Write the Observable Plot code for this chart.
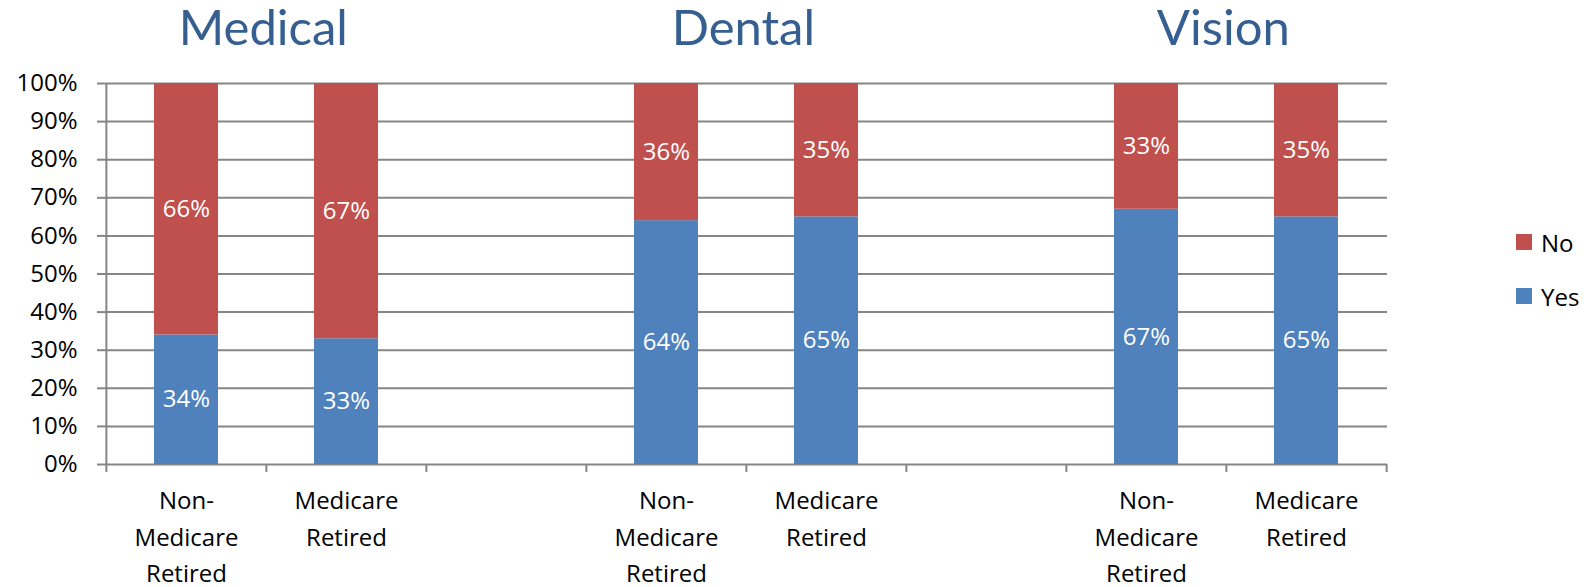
<!DOCTYPE html>
<html>
<head>
<meta charset="utf-8">
<script src="https://cdn.jsdelivr.net/npm/d3@7"></script>
<script src="https://cdn.jsdelivr.net/npm/@observablehq/plot@0.6"></script>
<style>
  body { margin: 0; background: #fff; font-family: "Open Sans", Lato, sans-serif; }
  #wrap { position: relative; width: 1593px; height: 587px; }
  #legend { position: absolute; left: 1516px; top: 228px; font-size: 24px; color: #000; }
  #legend .item { display: flex; align-items: center; height: 28px; margin-bottom: 26px; }
  #legend .sw { width: 16px; height: 16px; margin-right: 9px; }
</style>
</head>
<body>
<div id="wrap"></div>
<script>
const groups = ["Medical", "Dental", "Vision"];
const categories = ["Non-Medicare Retired", "Medicare Retired"];
const categoryLabels = ["Non-\nMedicare\nRetired", "Medicare\nRetired"];
const seriesNames = ["Yes", "No"];
const seriesColors = ["#4F81BD", "#C0504D"];
const yesValues = [[34, 33], [64, 65], [67, 65]];
const noValues = [[66, 67], [36, 35], [33, 35]];
const yTicks = [0, 10, 20, 30, 40, 50, 60, 70, 80, 90, 100];
const legendOrder = ["No", "Yes"];

const W = 1593, H = 587, mL = 105, mR = 206, mT = 83, mB = 123;
const grid = "#868686";
const fs = 24;
const font = "'Open Sans', Lato, sans-serif";

// slot domain with gaps between groups
const slots = [];
const labelRows = [];
groups.forEach((g, gi) => {
  categories.forEach((c, ci) => {
    slots.push(`${g}|${c}`);
    labelRows.push({slot: `${g}|${c}`, label: categoryLabels[ci]});
  });
  if (gi < groups.length - 1) slots.push(`gap${gi}`);
});
const step = (W - mL - mR) / slots.length;

const rows = [];
seriesNames.forEach((s, si) => {
  groups.forEach((g, gi) => {
    categories.forEach((c, ci) => {
      rows.push({slot: `${g}|${c}`, series: s, value: (si === 0 ? yesValues : noValues)[gi][ci]});
    });
  });
});

const chart = Plot.plot({
  width: W, height: H,
  marginLeft: mL, marginRight: mR, marginTop: mT, marginBottom: mB,
  style: {fontFamily: font, fontSize: fs + "px", background: "#fff", overflow: "visible"},
  x: {type: "band", domain: slots, paddingInner: 0.6, paddingOuter: 0.3, axis: null},
  y: {domain: [0, 100], axis: null},
  color: {domain: seriesNames, range: seriesColors},
  marks: [
    Plot.gridY(yTicks, {stroke: grid, strokeOpacity: 1, strokeWidth: 2}),
    Plot.axisY({ticks: yTicks, tickSize: 8, tickPadding: 20, tickFormat: d => d + "%", stroke: grid, strokeWidth: 2, fill: "#000", fontSize: fs, label: null}),
    Plot.ruleX([slots[0]], {dx: -step / 2, y1: 0, y2: 100, stroke: grid, strokeWidth: 2}),
    Plot.axisX({ticks: slots, tickSize: 8, tickFormat: () => "", dx: -step / 2, stroke: grid, strokeWidth: 2, label: null}),
    Plot.axisX({ticks: [slots[slots.length - 1]], tickSize: 8, tickFormat: () => "", dx: step / 2, stroke: grid, strokeWidth: 2, label: null}),
    Plot.barY(rows, {x: "slot", y: "value", fill: "series"}),
    Plot.text(rows, Plot.stackY({x: "slot", y: "value", text: d => d.value + "%", fill: "white", fontSize: fs})),
    Plot.text(labelRows, {x: "slot", y: () => 0, text: "label", lineAnchor: "top", dy: 19, lineHeight: 1.52, fontSize: fs, fill: "#000"}),
    Plot.text(groups, {x: g => `${g}|${categories[1]}`, dx: -step / 2 - 3, y: () => 100, dy: -54, text: d => d, fontSize: 49, fontFamily: "Lato, sans-serif", fill: "#365F91"})
  ]
});

const wrap = document.getElementById("wrap");
wrap.appendChild(chart);
const legend = document.createElement("div");
legend.id = "legend";
legendOrder.forEach(name => {
  const it = document.createElement("div");
  it.className = "item";
  const sw = document.createElement("div");
  sw.className = "sw";
  sw.style.background = seriesColors[seriesNames.indexOf(name)];
  const t = document.createElement("span");
  t.textContent = name;
  it.appendChild(sw); it.appendChild(t);
  legend.appendChild(it);
});
wrap.appendChild(legend);
</script>
</body>
</html>
